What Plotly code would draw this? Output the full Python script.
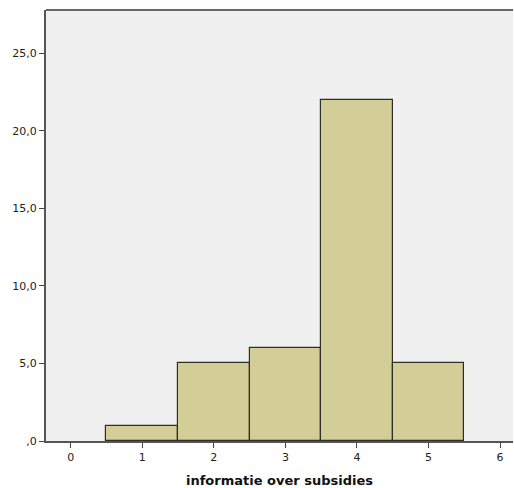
import plotly.graph_objects as go

categories = [1, 2, 3, 4, 5]
counts = [1, 5, 6, 22, 5]
y_tick_vals = [0, 5, 10, 15, 20, 25]
y_tick_text = [",0", "5,0", "10,0", "15,0", "20,0", "25,0"]
x_tick_vals = [0, 1, 2, 3, 4, 5, 6]

fig = go.Figure()
fig.add_trace(go.Bar(
    x=categories, y=counts, width=1,
    marker=dict(color="#d3ce98", line=dict(color="#2e2e24", width=1.2)),
))

fig.update_layout(
    width=514, height=488,
    margin=dict(l=46, r=1, t=10, b=45),
    paper_bgcolor="white",
    plot_bgcolor="#f0f0f0",
    showlegend=False,
    bargap=0,
    font=dict(family="DejaVu Sans", size=11, color="#222222"),
    xaxis=dict(
        range=[-0.345, 6.18],
        tickvals=x_tick_vals,
        ticks="outside", ticklen=5, tickcolor="#444444", tickwidth=1,
        showgrid=False, zeroline=False,
        showline=True, linecolor="#555555", linewidth=2, mirror=False,
        title=dict(text="<b>informatie over subsidies</b>", font=dict(size=13, color="#111111"), standoff=14),
        tickfont=dict(size=11),
    ),
    yaxis=dict(
        range=[0, 27.8],
        tickvals=y_tick_vals, ticktext=y_tick_text,
        ticks="outside", ticklen=5, tickcolor="#444444", tickwidth=1,
        showgrid=False, zeroline=False,
        showline=True, linecolor="#555555", linewidth=2,
        tickfont=dict(size=11),
    ),
    shapes=[dict(type="line", xref="paper", yref="paper", x0=0, x1=1, y0=1, y1=1,
                 line=dict(color="#666666", width=2))],
)

fig.write_html("out.html", config={"displayModeBar": False},
               post_script="document.body.style.margin='0';document.body.style.overflow='hidden';")
